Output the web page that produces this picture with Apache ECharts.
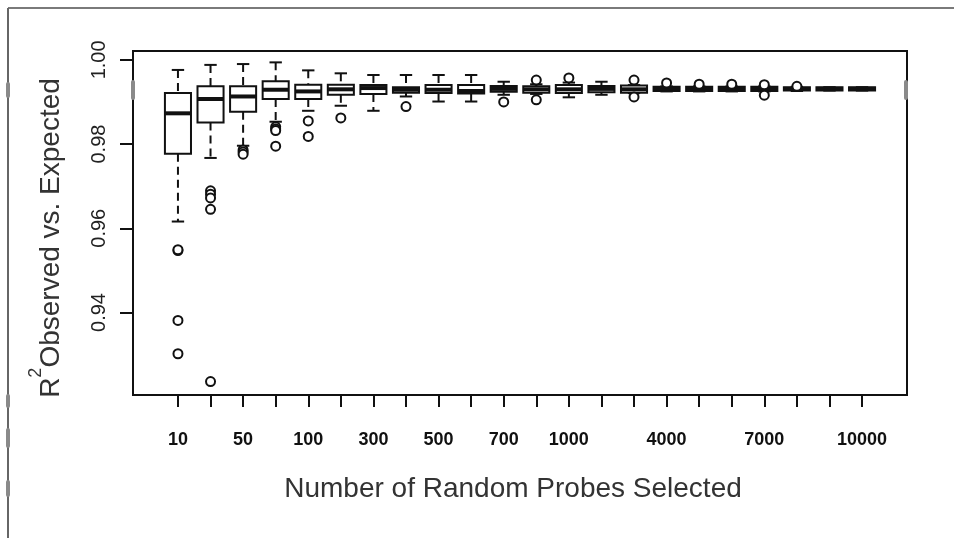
<!DOCTYPE html>
<html>
<head>
<meta charset="utf-8">
<script src="https://cdn.jsdelivr.net/npm/echarts@6/dist/echarts.min.js"></script>
<style>
html, body { margin: 0; padding: 0; background: #fff; }
#chart { width: 954px; height: 538px; }
</style>
</head>
<body>
<div id="chart"></div>
<script>
// number of probes per group (only some labels are printed on the axis)
var categories = ['10', '25', '50', '75', '100', '200', '300', '400', '500', '600', '700', '800',
	'1000', '2000', '3000', '4000', '5000', '6000', '7000', '8000', '9000', '10000'];
var shownLabels = ['10', '50', '100', '300', '500', '700', '1000', '4000', '7000', '10000'];
var yTicks = [0.94, 0.96, 0.98, 1.00];

// box statistics, one value per category
var whiskerLow = [0.9616, 0.9767, 0.9796, 0.9853, 0.9879, 0.9891, 0.9879, 0.9913, 0.9901, 0.9901, 0.9917,
	0.9919, 0.9911, 0.9917, 0.9921, 0.9925, 0.9925, 0.9925, 0.9925, 0.9926, 0.9927, 0.9927];
var q1 = [0.9777, 0.9851, 0.9877, 0.9907, 0.9907, 0.9917, 0.9919, 0.9922, 0.9921, 0.9920, 0.9924,
	0.9922, 0.9921, 0.9923, 0.9922, 0.9926, 0.9926, 0.9926, 0.9926, 0.9927, 0.9927, 0.9927];
var median = [0.9873, 0.9907, 0.9913, 0.9929, 0.9925, 0.9930, 0.9933, 0.9929, 0.9929, 0.9926, 0.9931,
	0.9930, 0.9930, 0.9931, 0.9930, 0.9931, 0.9931, 0.9931, 0.9931, 0.9931, 0.9931, 0.9931];
var q3 = [0.9921, 0.9937, 0.9937, 0.9949, 0.9941, 0.9941, 0.9940, 0.9935, 0.9940, 0.9940, 0.9938,
	0.9937, 0.9940, 0.9938, 0.9939, 0.9936, 0.9936, 0.9936, 0.9936, 0.9935, 0.9935, 0.9935];
var whiskerHigh = [0.9976, 0.9988, 0.9990, 0.9994, 0.9975, 0.9968, 0.9964, 0.9964, 0.9964, 0.9964, 0.9948,
	0.9942, 0.9946, 0.9948, 0.9940, 0.9937, 0.9937, 0.9937, 0.9937, 0.9936, 0.9935, 0.9935];

// outliers as [category index, value]
var outliers = [
	[0, 0.9547], [0, 0.9549], [0, 0.9381], [0, 0.9302],
	[1, 0.9689], [1, 0.9681], [1, 0.9672], [1, 0.9645], [1, 0.9236],
	[2, 0.9786], [2, 0.9781], [2, 0.9776],
	[3, 0.9841], [3, 0.9836], [3, 0.9832], [3, 0.9795],
	[4, 0.9855], [4, 0.9818],
	[5, 0.9862],
	[7, 0.9889],
	[10, 0.9900],
	[11, 0.9952], [11, 0.9905],
	[12, 0.9957],
	[14, 0.9952], [14, 0.9912],
	[15, 0.9945],
	[16, 0.9942],
	[17, 0.9942],
	[18, 0.9941], [18, 0.9916],
	[19, 0.9937]
];

var chart = echarts.init(document.getElementById('chart'));
var ink = '#111';
var font = "'Liberation Sans', Arial, sans-serif";

var boxData = categories.map(function (c, i) {
	return [i, whiskerLow[i], q1[i], median[i], q3[i], whiskerHigh[i]];
});
var allIdx = categories.map(function (c, i) { return i; });
var labelIdx = shownLabels.map(function (l) { return categories.indexOf(l); });

function renderBox(params, api) {
	var i = api.value(0);
	var pHigh = api.coord([i, api.value(5)]);
	var pQ3 = api.coord([i, api.value(4)]);
	var pMed = api.coord([i, api.value(3)]);
	var pQ1 = api.coord([i, api.value(2)]);
	var pLow = api.coord([i, api.value(1)]);
	var unit = api.size([1, 0])[0];
	var hw = unit * 0.4;
	var cw = unit * 0.19;
	var x = pMed[0];
	var dashed = { stroke: ink, lineWidth: 2, lineDash: [8, 5] };
	var solid = { stroke: ink, lineWidth: 2 };
	return {
		type: 'group',
		children: [
			{ type: 'line', shape: { x1: x, y1: pHigh[1], x2: x, y2: pQ3[1] }, style: dashed },
			{ type: 'line', shape: { x1: x, y1: pQ1[1], x2: x, y2: pLow[1] }, style: dashed },
			{ type: 'line', shape: { x1: x - cw, y1: pHigh[1], x2: x + cw, y2: pHigh[1] }, style: solid },
			{ type: 'line', shape: { x1: x - cw, y1: pLow[1], x2: x + cw, y2: pLow[1] }, style: solid },
			{ type: 'rect', shape: { x: x - hw, y: pQ3[1], width: hw * 2, height: pQ1[1] - pQ3[1] },
				style: { fill: '#fff', stroke: ink, lineWidth: 2 } },
			{ type: 'line', shape: { x1: x - hw, y1: pMed[1], x2: x + hw, y2: pMed[1] },
				style: { stroke: ink, lineWidth: 4 } }
		]
	};
}

// little grey smudges on the frame lines of the scan
function smudge(x, y, h) {
	return { type: 'rect', shape: { x: x - 2, y: y, width: 4, height: h, r: 2 },
		style: { fill: '#8a8a8a' }, z: 1 };
}

var option = {
	backgroundColor: '#fff',
	animation: false,
	grid: {
		left: 133, top: 51, right: 47, bottom: 143,
		show: true, borderColor: ink, borderWidth: 2, backgroundColor: 'transparent'
	},
	xAxis: {
		type: 'value',
		min: -1.38, max: 22.38,
		splitLine: { show: false },
		axisLine: { show: false, onZero: false },
		axisTick: { show: true, length: 12, customValues: allIdx, lineStyle: { color: ink, width: 2 } },
		axisLabel: {
			customValues: labelIdx,
			margin: 36,
			color: ink,
			fontFamily: font,
			fontSize: 18,
			fontWeight: 'bold',
			formatter: function (v) { return categories[Math.round(v)]; }
		}
	},
	yAxis: {
		type: 'value',
		min: 0.9204, max: 1.0021,
		splitLine: { show: false },
		axisLine: { show: false, onZero: false },
		axisTick: { show: true, length: 13, customValues: yTicks, lineStyle: { color: ink, width: 2 } },
		axisLabel: {
			customValues: yTicks,
			rotate: 90,
			margin: 24,
			color: '#222',
			fontFamily: font,
			fontSize: 20,
			formatter: function (v) { return v.toFixed(2); }
		}
	},
	graphic: [
		{ type: 'line', shape: { x1: 8, y1: 8, x2: 954, y2: 8 }, style: { stroke: '#7a7a7a', lineWidth: 2 } },
		{ type: 'line', shape: { x1: 8, y1: 8, x2: 8, y2: 538 }, style: { stroke: '#666', lineWidth: 2 } },
		smudge(8, 82, 16), smudge(8, 394, 14), smudge(8, 428, 20), smudge(8, 480, 17),
		smudge(133, 80, 20), smudge(906, 80, 20),
		{
			type: 'text', x: 513, y: 489,
			style: {
				text: 'Number of Random Probes Selected',
				font: '28px ' + font, fill: '#333',
				textAlign: 'center', textVerticalAlign: 'middle'
			}
		},
		{
			type: 'text', x: 46, y: 238, rotation: Math.PI / 2,
			style: {
				text: '{m|R}{s|2}{m|Observed vs. Expected}',
				textAlign: 'center', textVerticalAlign: 'middle',
				fill: '#333',
				rich: {
					m: { fontSize: 28, fontFamily: font, color: '#333', verticalAlign: 'bottom', padding: [10, 0, 0, 0] },
					s: { fontSize: 18, fontFamily: font, color: '#333', verticalAlign: 'top' }
				}
			}
		}
	],
	series: [
		{
			type: 'custom',
			renderItem: renderBox,
			encode: { x: 0, y: [1, 2, 3, 4, 5] },
			data: boxData,
			z: 2
		},
		{
			type: 'scatter',
			data: outliers,
			symbol: 'circle',
			symbolSize: 9,
			itemStyle: { color: '#fff', borderColor: ink, borderWidth: 2, opacity: 1 },
			z: 3
		}
	]
};

chart.setOption(option);
</script>
</body>
</html>
